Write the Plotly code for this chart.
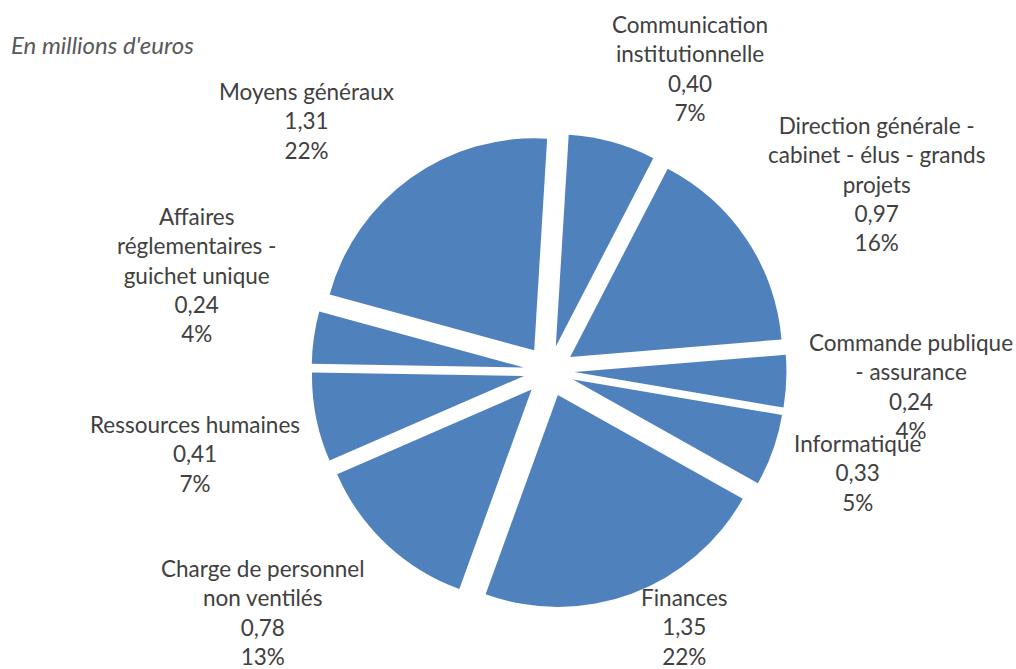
import math
import plotly.graph_objects as go

# Budget breakdown by department (millions of euros), clockwise from the top
categories = [
    "Communication<br>institutionnelle",
    "Direction générale -<br>cabinet - élus - grands<br>projets",
    "Commande publique<br>- assurance",
    "Informatique",
    "Finances",
    "Charge de personnel<br>non ventilés",
    "Ressources humaines",
    "Affaires<br>réglementaires -<br>guichet unique",
    "Moyens généraux",
]
values = [0.40, 0.97, 0.24, 0.33, 1.35, 0.78, 0.41, 0.24, 1.31]

# Label placement around each slice: (angle shift from the slice bisector in
# degrees, distance from the pie centre in radius units)
label_placement = [
    (9.5, 1.573),
    (3.9, 1.778),
    (0.0, 1.711),
    (-1.3, 1.536),
    (-7.6, 1.365),
    (6.6, 1.766),
    (-1.9, 1.715),
    (7.1, 1.721),
    (-8.5, 1.645),
]

W, H = 1016, 669
BLUE = "#4F81BD"
TEXT = "#404040"
TITLE = "#595959"
FONT = "Lato"
FONT_SIZE = 22.5
TITLE_SIZE = 24
ROTATION = 3.5
PULL = 0.12
DOMAIN_X = [0.3066, 0.7741]
DOMAIN_Y = [0.0904, 0.8004]

fig = go.Figure(
    go.Pie(
        labels=categories,
        values=values,
        sort=False,
        direction="clockwise",
        rotation=ROTATION,
        pull=[PULL] * len(values),
        marker=dict(colors=[BLUE] * len(values), line=dict(width=0)),
        textinfo="none",
        showlegend=False,
        hovertemplate="%{label}<br>%{value:.2f}<br>%{percent:.0%}<extra></extra>",
        domain=dict(x=DOMAIN_X, y=DOMAIN_Y),
    )
)

# Pie geometry in pixels (margins are zero, so paper == page)
cx = (DOMAIN_X[0] + DOMAIN_X[1]) / 2 * W
cy = (1 - (DOMAIN_Y[0] + DOMAIN_Y[1]) / 2) * H
box = min((DOMAIN_X[1] - DOMAIN_X[0]) * W, (DOMAIN_Y[1] - DOMAIN_Y[0]) * H)
radius = box / 2 / (1 + PULL)

total = sum(values)
start = ROTATION
for name, val, (shift, dist) in zip(categories, values, label_placement):
    span = val / total * 360
    mid = math.radians(start + span / 2 + shift)
    start += span
    px = cx + dist * radius * math.sin(mid)
    py = cy - dist * radius * math.cos(mid)
    value_txt = f"{val:.2f}".replace(".", ",")
    pct_txt = f"{round(val / total * 100):d}%"
    fig.add_annotation(
        text=f"{name}<br>{value_txt}<br>{pct_txt}",
        xref="paper", yref="paper",
        x=px / W, y=1 - py / H,
        xanchor="center", yanchor="middle",
        align="center",
        showarrow=False,
        font=dict(family=FONT, size=FONT_SIZE, color=TEXT),
    )

fig.add_annotation(
    text="En millions d'euros",
    xref="paper", yref="paper",
    x=9 / W, y=1 - 45 / H, xanchor="left", yanchor="middle",
    showarrow=False,
    font=dict(family=FONT, size=TITLE_SIZE, color=TITLE, style="italic"),
)

fig.update_layout(
    width=W,
    height=H,
    margin=dict(l=0, r=0, t=0, b=0, autoexpand=False),
    showlegend=False,
    paper_bgcolor="white",
    plot_bgcolor="white",
    separators=", ",
)

fig.write_html("out.html")
